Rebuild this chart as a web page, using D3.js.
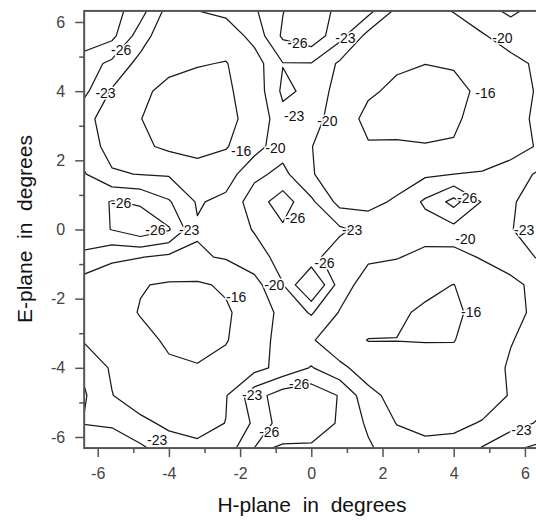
<!DOCTYPE html>
<html><head><meta charset="utf-8">
<script src="https://cdn.jsdelivr.net/npm/d3@7"></script>
<style>body{margin:0;background:#fff}svg{display:block}</style>
</head><body><svg id="chart" width="536" height="520"></svg>
<script>
// grid nodes (degrees)
const xNodes = [-6.4,-5.6,-4.8,-4.0,-3.2,-2.4,-1.6,-0.8,0,0.8,1.6,2.4,3.2,4.0,4.8,5.6,6.4];
const yNodes = [6.4,5.6,4.8,4.0,3.2,2.4,1.6,0.8,0,-0.8,-1.6,-2.4,-3.2,-4.0,-4.8,-5.6,-6.4];
const levels = [-26,-23,-20,-16];
const majorTicks = [-6,-4,-2,0,2,4,6];
const minorTicks = [-5,-3,-1,1,3,5];

// gain (dB) rows, top (y=6.4) to bottom (y=-6.4), columns x=-6.4..6.4
const rowP64 = [-29,-27.2,-24.5,-19,-20.3,-21,-22.7,-25.8,-29,-24.8,-24.5,-19.8,-18.8,-20.5,-22.3,-23.7,-22.3];
const rowP56 = [-28,-26.8,-21.5,-17.5,-17.0,-18.2,-21.0,-26.5,-28,-24,-19,-17.5,-16.8,-17.5,-19.7,-21.5,-21.8];
const rowP48 = [-24.5,-22.3,-19.0,-17.2,-16.3,-15.8,-18.6,-22.9,-22.9,-19.5,-17.5,-16.5,-16.05,-16.4,-17.5,-19.0,-20.6];
const rowP40 = [-23.8,-19.7,-16.9,-14.8,-14.2,-15.3,-18.0,-23.6,-22.3,-18.6,-16.5,-15.3,-14.5,-14.8,-16.9,-18.4,-20.4];
const rowP32 = [-21.0,-18.5,-16.1,-14.0,-13.5,-14.8,-17.6,-22.0,-21.5,-18.0,-15.0,-14.2,-13.8,-15.6,-17.0,-18.5,-20.8];
const rowP24 = [-21.5,-19.0,-16.8,-15.2,-14.5,-15.7,-18.8,-21.8,-20.1,-17.8,-16.3,-16.6,-16.3,-16.2,-17.5,-18.8,-20.3];
const rowP16 = [-23.3,-20.3,-19.9,-19.7,-18.0,-18.5,-22.3,-23.8,-20.2,-18.5,-18.0,-18.3,-19.5,-20.0,-20.3,-21.3,-23.5];
const rowP08 = [-24.3,-26.2,-25.6,-23.3,-19.7,-20.8,-24.5,-27.5,-23.6,-19.0,-19.0,-20.5,-23.5,-27.0,-22.8,-22.8,-23.8];
const rowZ00 = [-24.5,-26.1,-28.0,-26.3,-20.3,-21.3,-23.2,-25.5,-24.5,-23.5,-22.0,-21.2,-21.6,-22.0,-22.0,-22.9,-24.0];
const rowM08 = [-22.5,-20.5,-20.1,-19.3,-19.6,-20.3,-21.8,-24.0,-23.8,-21.5,-20.5,-20.2,-19.0,-18.8,-20.3,-21.3,-23.3];
const rowM16 = [-18.5,-18.2,-16.2,-15.6,-15.5,-16.5,-18.9,-22.9,-30.0,-21.5,-18.5,-17.5,-16.8,-15.95,-17.5,-19.3,-20.8];
const rowM24 = [-19.0,-17.5,-15.8,-14.5,-14.3,-15.5,-17.8,-21.0,-23.3,-19.8,-17.8,-16.5,-15.5,-15.0,-17.8,-19.0,-20.8];
const rowM32 = [-19.8,-18.5,-17.0,-15.5,-15.0,-15.8,-18.0,-21.5,-20.4,-17.5,-15.9,-15.95,-15.9,-15.9,-17.5,-19.8,-21.5];
const rowM40 = [-22.5,-19.6,-18.0,-16.5,-16.2,-17.0,-19.0,-21.0,-23.2,-20.8,-18.3,-17.5,-17.0,-17.2,-18.0,-20.5,-22.0];
const rowM48 = [-23.4,-20.1,-18.2,-17.6,-17.8,-19.8,-24.8,-27.5,-28.0,-25.8,-21.0,-18.8,-17.8,-17.8,-18.5,-20.2,-21.8];
const rowM56 = [-22.9,-22.6,-20.8,-19.3,-19.0,-20.05,-23.5,-27.5,-28.5,-25.5,-22.5,-19.9,-19.3,-19.3,-20.2,-21.8,-23.3];
const rowM64 = [-25.5,-25.0,-23.8,-21.8,-20.8,-21.5,-26.3,-25.5,-25.0,-24.5,-23.5,-21.5,-20.8,-21.2,-23.5,-25.8,-27.0];

// contour labels
const labelText = ["-26","-23","-26","-23","-20","-23","-20","-16","-16","-20","-26","-26","-23","-26","-23","-26","-20","-23","-26","-20","-16","-16","-23","-26","-26","-23","-23"];
const labelX = [-5.34,-5.78,-0.39,0.96,5.37,-0.48,0.45,4.89,-1.97,-1.01,-5.34,-4.38,-3.43,-0.45,1.15,4.38,4.33,5.98,0.37,-1.04,-2.11,4.49,-1.66,-0.34,-1.18,-4.33,5.9];
const labelY = [5.19,3.95,5.39,5.53,5.53,3.28,3.13,3.94,2.27,2.36,0.77,-0.01,-0.01,0.33,-0.01,0.91,-0.27,-0.01,-0.97,-1.6,-1.95,-2.38,-4.78,-4.46,-5.85,-6.08,-5.79];

const rows = [rowP64,rowP56,rowP48,rowP40,rowP32,rowP24,rowP16,rowP08,rowZ00,rowM08,rowM16,rowM24,rowM32,rowM40,rowM48,rowM56,rowM64];
const values = rows.flat();
const nx = xNodes.length, ny = yNodes.length;

const svg = d3.select("#chart");
const font = "'Liberation Sans', Arial, Helvetica, sans-serif";

const x = d3.scaleLinear().domain([-6, 6]).range([97.7, 524.9]);
const y = d3.scaleLinear().domain([-6, 6]).range([437, 22]);
const xLim = [-6.38, 6.38], yLim = [-6.32, 6.32];
const pL = x(xLim[0]), pR = x(xLim[1]), pT = y(yLim[1]), pB = y(yLim[0]);

// grid index -> data
const gx = d3.scaleLinear().domain([0.5, nx - 0.5]).range([xNodes[0], xNodes[nx - 1]]);
const gy = d3.scaleLinear().domain([0.5, ny - 0.5]).range([yNodes[0], yNodes[ny - 1]]);

svg.append("defs").append("clipPath").attr("id", "plotclip")
  .append("rect").attr("x", pL).attr("y", pT).attr("width", pR - pL).attr("height", pB - pT);

const contours = d3.contours().size([nx, ny]).thresholds(levels)(values);
const proj = d3.geoTransform({
  point: function(px, py) { this.stream.point(x(gx(px)), y(gy(py))); }
});
const path = d3.geoPath(proj);

svg.append("g").attr("clip-path", "url(#plotclip)")
  .selectAll("path").data(contours).join("path")
  .attr("d", path)
  .attr("fill", "none")
  .attr("stroke", "#1a1a1a")
  .attr("stroke-width", 1.25)
  .attr("stroke-linejoin", "round");

// labels
svg.append("g").selectAll("text").data(labelText).join("text")
  .attr("x", (d, i) => x(labelX[i]))
  .attr("y", (d, i) => y(labelY[i]))
  .attr("dy", "0.35em")
  .attr("text-anchor", "middle")
  .attr("font-family", font)
  .attr("font-size", 14)
  .attr("fill", "#111")
  .attr("stroke", "#fff")
  .attr("stroke-width", 3)
  .attr("paint-order", "stroke")
  .text(d => d);

// frame
svg.append("rect").attr("x", pL).attr("y", pT).attr("width", pR - pL).attr("height", pB - pT)
  .attr("fill", "none").attr("stroke", "#555").attr("stroke-width", 2);

// axes
const fmt = d => String(d);
const yAxis = svg.append("g").attr("transform", `translate(${pL},0)`)
  .call(d3.axisLeft(y).tickValues(majorTicks).tickSize(9).tickPadding(10).tickFormat(fmt));
const yMinor = svg.append("g").attr("transform", `translate(${pL},0)`)
  .call(d3.axisLeft(y).tickValues(minorTicks).tickSize(5).tickFormat(""));
const xAxis = svg.append("g").attr("transform", `translate(0,${pB})`)
  .call(d3.axisBottom(x).tickValues(majorTicks).tickSize(9).tickPadding(11).tickFormat(fmt));
const xMinor = svg.append("g").attr("transform", `translate(0,${pB})`)
  .call(d3.axisBottom(x).tickValues(minorTicks).tickSize(5).tickFormat(""));
[yAxis, yMinor, xAxis, xMinor].forEach(g => {
  g.select(".domain").remove();
  g.selectAll("line").attr("stroke", "#555").attr("stroke-width", 1.5);
  g.selectAll("text").attr("font-family", font).attr("font-size", 16).attr("fill", "#444");
});

// titles
svg.append("text").attr("x", 312).attr("y", 512).attr("text-anchor", "middle")
  .attr("font-family", font).attr("font-size", 21).attr("fill", "#111")
  .style("white-space", "pre")
  .text("H-plane  in  degrees");
svg.append("text").attr("transform", `translate(32,229) rotate(-90)`).attr("text-anchor", "middle")
  .attr("font-family", font).attr("font-size", 21).attr("fill", "#111")
  .style("white-space", "pre")
  .text("E-plane  in  degrees");
</script>
</body></html>
